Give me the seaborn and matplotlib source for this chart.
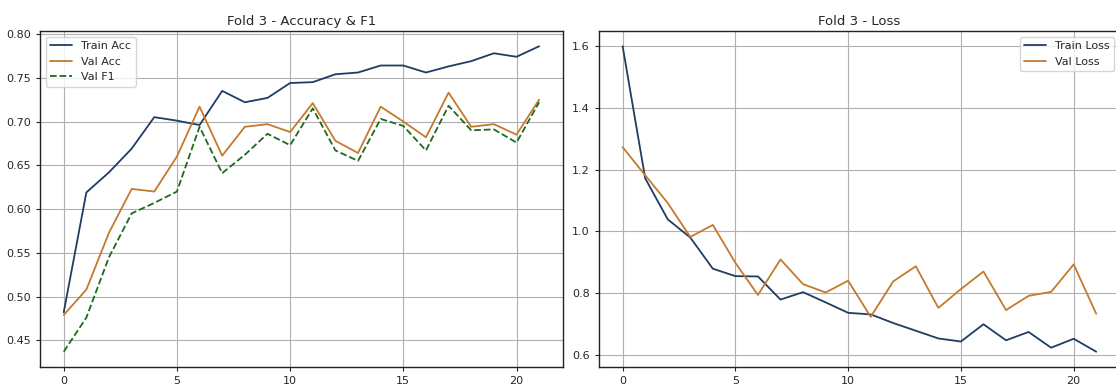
import numpy as np
import pandas as pd
import matplotlib
matplotlib.use('Agg')
import matplotlib.pyplot as plt
import seaborn as sns

# values
epochs = list(range(22))
train_acc = [0.482, 0.619, 0.642, 0.669, 0.705, 0.701, 0.696, 0.735, 0.722, 0.727, 0.744,
             0.745, 0.754, 0.756, 0.764, 0.764, 0.756, 0.763, 0.769, 0.778, 0.774, 0.786]
val_acc = [0.479, 0.508, 0.573, 0.623, 0.620, 0.660, 0.717, 0.661, 0.694, 0.697, 0.688,
           0.721, 0.678, 0.664, 0.717, 0.700, 0.682, 0.733, 0.694, 0.697, 0.685, 0.725]
val_f1 = [0.437, 0.476, 0.545, 0.595, 0.607, 0.620, 0.694, 0.641, 0.662, 0.686, 0.673,
          0.715, 0.667, 0.655, 0.703, 0.695, 0.667, 0.718, 0.690, 0.691, 0.676, 0.722]
train_loss = [1.600, 1.172, 1.039, 0.980, 0.879, 0.855, 0.854, 0.779, 0.803, 0.770, 0.736,
              0.731, 0.703, 0.678, 0.653, 0.643, 0.699, 0.647, 0.674, 0.623, 0.652, 0.610]
val_loss = [1.273, 1.182, 1.092, 0.982, 1.021, 0.898, 0.794, 0.909, 0.829, 0.802, 0.840,
            0.723, 0.838, 0.887, 0.752, 0.813, 0.870, 0.745, 0.791, 0.804, 0.893, 0.733]

c_train = '#1f3d63'
c_val = '#c47a2c'
c_f1 = '#1d6a1d'

sns.set_style('ticks')
plt.rcParams['font.family'] = ['DejaVu Sans']

fig = plt.figure(figsize=(11.16, 3.84), dpi=100)
ax1 = fig.add_axes([0.0358, 0.0443, 0.4686, 0.875])
ax2 = fig.add_axes([0.5367, 0.0443, 0.4668, 0.875])

# accuracy & f1
sns.lineplot(x=epochs, y=train_acc, ax=ax1, color=c_train, lw=1.3, label='Train Acc')
sns.lineplot(x=epochs, y=val_acc, ax=ax1, color=c_val, lw=1.3, label='Val Acc')
sns.lineplot(x=epochs, y=val_f1, ax=ax1, color=c_f1, lw=1.3, ls='--', label='Val F1')
ax1.set_title('Fold 3 - Accuracy & F1', fontsize=9.5, pad=4)
ax1.legend(loc='upper left', fontsize=8, frameon=True, handlelength=2)

# loss
sns.lineplot(x=epochs, y=train_loss, ax=ax2, color=c_train, lw=1.3, label='Train Loss')
sns.lineplot(x=epochs, y=val_loss, ax=ax2, color=c_val, lw=1.3, label='Val Loss')
ax2.set_title('Fold 3 - Loss', fontsize=9.5, pad=4)
ax2.legend(loc='upper right', fontsize=8, frameon=True, handlelength=2)

ax1.set_yticks([0.45, 0.50, 0.55, 0.60, 0.65, 0.70, 0.75, 0.80])
ax1.set_yticklabels(['0.45', '0.50', '0.55', '0.60', '0.65', '0.70', '0.75', '0.80'])
ax2.set_yticks([0.6, 0.8, 1.0, 1.2, 1.4, 1.6])

for ax in (ax1, ax2):
    ax.set_xticks([0, 5, 10, 15, 20])
    ax.grid(True, color='#b0b0b0', lw=0.8)
    ax.tick_params(labelsize=8, length=3, width=0.8)
    for s in ax.spines.values():
        s.set_color('#222222')
        s.set_linewidth(1.0)
        s.set_visible(True)

fig.savefig('out.png', dpi=100)
